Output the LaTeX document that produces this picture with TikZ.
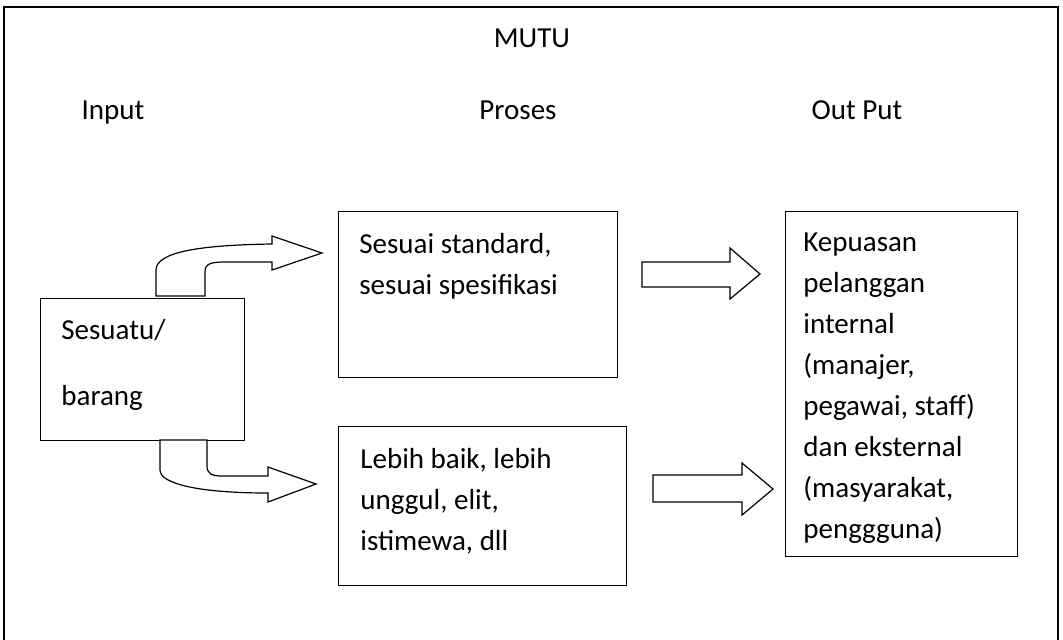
\documentclass[tikz,border=0pt]{standalone}
\usepackage{fontspec}
\setmainfont{Carlito}
\begin{document}
\begin{tikzpicture}[x=0.5pt,y=-0.5pt,
  box/.style={draw, line width=0.6pt, inner sep=0pt, anchor=north west},
  txt/.style={anchor=base west, inner sep=0pt, font=\fontsize{14.5}{20.5}\selectfont},
  head/.style={anchor=base, inner sep=0pt, font=\fontsize{14.5}{20.5}\selectfont},
  blk/.style={draw, line width=0.6pt, fill=white, line join=miter}]
\useasboundingbox (0,0) rectangle (1063,639);
\clip (0,0) rectangle (1063,639);
% outer frame
\draw[line width=1.2pt] (4,660) -- (4,7) -- (1058,7) -- (1058,660);
% headings
\node[head] (mutu) at (532,47) {MUTU};
\node[head] (hin) at (113,119) {Input};
\node[head] (hpr) at (518,119) {Proses};
\node[head] (hout) at (857,119) {Out Put};
% boxes
\node[box, minimum width=102pt, minimum height=71pt] (b1) at (40,298) {};
\node[box, minimum width=139.5pt, minimum height=83pt] (b2) at (338,211) {};
\node[box, minimum width=144pt, minimum height=79.5pt] (b3) at (338,426) {};
\node[box, minimum width=116pt, minimum height=172.5pt] (b4) at (785,211) {};
% texts
\node[txt] (t1a) at (61,339) {Sesuatu/};
\node[txt] (t1b) at (61,405) {barang};
\node[txt] (t2a) at (359,253) {Sesuai standard,};
\node[txt] (t2b) at (359,294) {sesuai spesifikasi};
\node[txt] (t3a) at (360,468) {Lebih baik, lebih};
\node[txt] (t3b) at (360,509) {unggul, elit,};
\node[txt] (t3c) at (360,550) {istimewa, dll};
\node[txt] (t4a) at (803,251) {Kepuasan};
\node[txt] (t4b) at (803,292) {pelanggan};
\node[txt] (t4c) at (803,333) {internal};
\node[txt] (t4d) at (803,374) {(manajer,};
\node[txt] (t4e) at (803,415) {pegawai, staff)};
\node[txt] (t4f) at (803,456) {dan eksternal};
\node[txt] (t4g) at (803,497) {(masyarakat,};
\node[txt] (t4h) at (803,538) {pengggunа)};
% bent arrow up
\draw[blk] (156,296) -- (156,270) .. controls (156,252) and (200,245) .. (272,244)
  -- (272,236) -- (322,253) -- (272,270) -- (272,262) -- (225,262)
  .. controls (210,262) and (205,264) .. (205,272) -- (205,296) -- cycle;
% bent arrow down
\draw[blk] (160,440) -- (160,470) .. controls (160,484) and (200,493) .. (268,493)
  -- (268,502) -- (316,484) -- (268,467) -- (268,476) -- (222,476)
  .. controls (211,476) and (207,473) .. (207,466) -- (207,440) -- cycle;
% straight arrows
\draw[blk] (642,262) -- (730,262) -- (730,248) -- (760,274) -- (730,299) -- (730,287) -- (642,287) -- cycle;
\draw[blk] (653,475) -- (742,475) -- (742,463) -- (773,489) -- (742,515) -- (742,502) -- (653,502) -- cycle;
\end{tikzpicture}
\end{document}
